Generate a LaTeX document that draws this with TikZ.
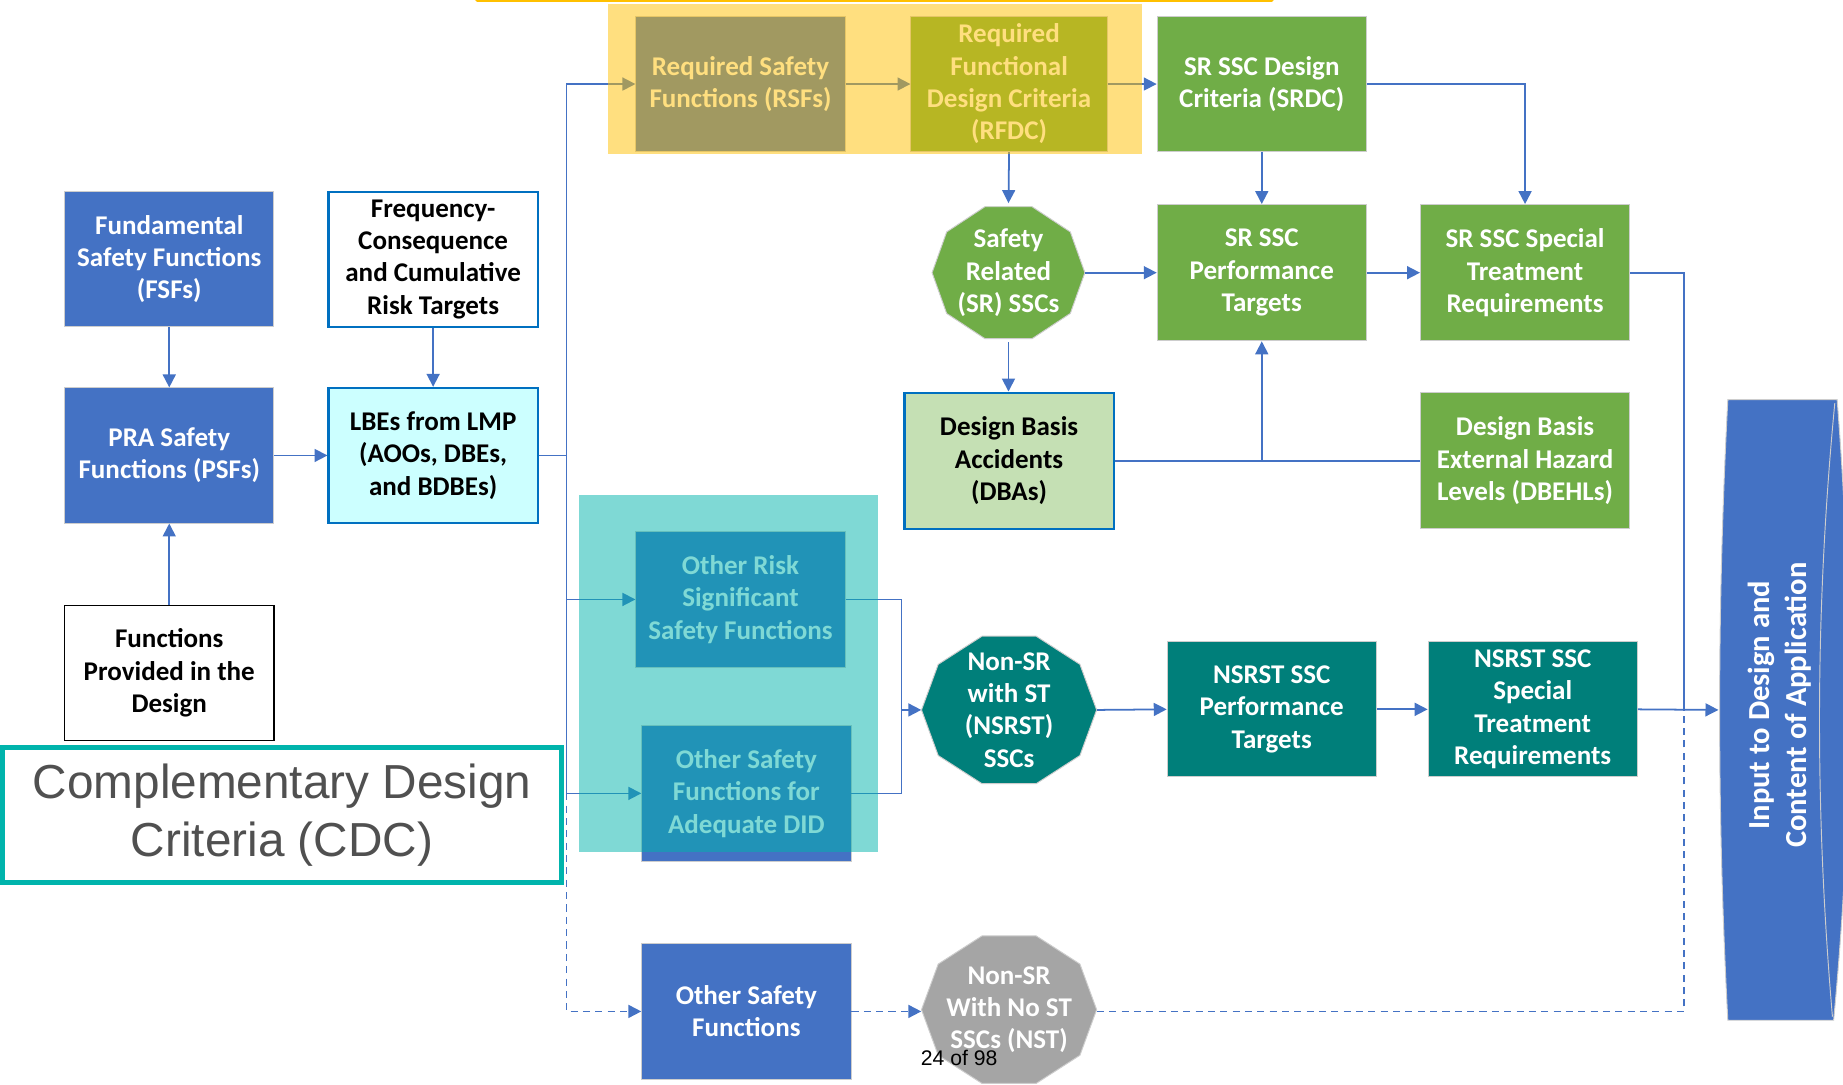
\documentclass[tikz,border=0pt]{standalone}
\usepackage{fontspec}
\setmainfont{Carlito}
\newfontfamily\arialf{Liberation Sans}
\usetikzlibrary{arrows.meta,calc}

\definecolor{bl}{RGB}{68,114,196}
\definecolor{gr}{RGB}{112,173,71}
\definecolor{dteal}{RGB}{0,127,122}
\definecolor{gy}{RGB}{165,165,165}
\definecolor{lblue}{RGB}{0,112,192}
\definecolor{lcyan}{RGB}{204,255,255}
\definecolor{lgreen}{RGB}{197,224,180}
\definecolor{tealc}{RGB}{0,180,172}
\definecolor{gold}{RGB}{255,192,0}
\definecolor{edge}{RGB}{205,205,205}
\definecolor{cdctext}{RGB}{80,80,80}

\newcommand{\decashape}[5]{%
  \filldraw[fill=#5, draw=edge, line width=0.8pt] ({#1+#3},#2)
    \foreach \t in {36,72,...,324}{ -- ({#1+#3*cos(\t)},{#2+#4*sin(\t)}) } -- cycle;}

\begin{document}
\begin{tikzpicture}[x=1pt,y=-1pt,
  txt/.style={align=center, font=\fontsize{23}{27.5}\selectfont\bfseries},
  box/.style={txt, rectangle, minimum width=178pt, minimum height=115pt, inner sep=2pt, draw=edge, line width=0.8pt},
  bluebox/.style={box, fill=bl, text=white},
  greenbox/.style={box, fill=gr, text=white},
  tealbox/.style={box, fill=dteal, text=white},
  outbox/.style={box, draw=lblue, line width=1.8pt, text=black},
  decot/.style={txt, rectangle, draw=none, inner sep=0pt, text=white},
  conn/.style={draw=bl, line width=1.5pt},
  arr/.style={conn, -{Triangle[length=11pt,width=11pt]}},
  dashln/.style={dash pattern=on 6pt off 4.5pt}
]
\useasboundingbox (0,0) rectangle (1568,923);
\fill[white] (0,0) rectangle (1568,923);

% ---------- boxes ----------
\node[bluebox] (rsf) at (630,71.5) {Required Safety\\Functions (RSFs)};
\node[greenbox, minimum width=167pt] (rfdc) at (858.5,71.5) {Required\\Functional\\Design Criteria\\(RFDC)};
\node[greenbox] (srdc) at (1073.5,71.5) {SR SSC Design\\Criteria (SRDC)};

\node[bluebox] (fsf) at (144,220.5) {Fundamental\\Safety Functions\\(FSFs)};
\node[outbox, fill=white] (fc) at (368.5,220.5) {Frequency-\\Consequence\\and Cumulative\\Risk Targets};
\node[bluebox] (psf) at (144,387.5) {PRA Safety\\Functions (PSFs)};
\node[outbox, fill=lcyan] (lbe) at (368.5,387.5) {LBEs from LMP\\(AOOs, DBEs,\\and BDBEs)};
\node[box, draw=black, line width=1.3pt, fill=white, text=black] (fpd) at (144,572.5) {Functions\\Provided in the\\Design};

\decashape{858}{232}{65}{59}{gr}
\node[decot, minimum width=130pt, minimum height=118pt] (sr) at (858,232) {Safety\\Related\\(SR) SSCs};
\node[greenbox, minimum height=116pt] (srperf) at (1073.5,232) {SR SSC\\Performance\\Targets};
\node[greenbox, minimum height=116pt] (srspec) at (1297.5,232) {SR SSC Special\\Treatment\\Requirements};
\node[outbox, fill=lgreen, minimum height=116pt] (dba) at (858.5,392) {Design Basis\\Accidents\\(DBAs)};
\node[greenbox, minimum height=116pt] (dbehl) at (1297.5,392) {Design Basis\\External Hazard\\Levels (DBEHLs)};

\node[bluebox, minimum height=116pt] (orsf) at (630,510) {Other Risk\\Significant\\Safety Functions};
\node[bluebox, minimum height=116pt] (did) at (635,675) {Other Safety\\Functions for\\Adequate DID};

\decashape{858.5}{604}{74.5}{66}{dteal}
\node[decot, minimum width=149pt, minimum height=132pt] (nsr) at (858.5,604) {Non-SR\\with ST\\(NSRST)\\SSCs};
\node[tealbox] (nsperf) at (1082,603.5) {NSRST SSC\\Performance\\Targets};
\node[tealbox] (nsspec) at (1304,603.5) {NSRST SSC\\Special\\Treatment\\Requirements};

\node[bluebox] (osf) at (635,860.5) {Other Safety\\Functions};
\decashape{858.5}{859}{74.5}{66}{gy}
\node[decot, minimum width=149pt, minimum height=132pt] (nst) at (858.5,859) {Non-SR\\With No ST\\SSCs (NST)};

% input shape
\filldraw[fill=bl, draw=edge, line width=0.8pt] (1470,340) -- (1563,340)
  .. controls (1577,520) and (1577,690) .. (1560,868) -- (1470,868)
  .. controls (1460.7,690) and (1460.7,520) .. (1470,340) -- cycle;
\draw[edge, line width=0.8pt] (1561,343) .. controls (1544,520) and (1544,690) .. (1559,865);
\node[txt, rotate=90, text=white, font=\fontsize{26}{32}\selectfont\bfseries] (inp) at (1514,600) {Input to Design and\\Content of Application};
\coordinate (inw) at (1462,604);

% ---------- connectors ----------
\coordinate (trunk) at (482,387.5);
\coordinate (busM) at (767,604);
\coordinate (busR) at (1433,604);

\draw[arr] (fsf) -- (psf);
\draw[arr] (fc) -- (lbe);
\draw[arr] (fpd) -- (psf);
\draw[arr] (psf) -- (lbe);
\draw[conn] (lbe.east) -- (trunk);
\draw[arr] (trunk) |- (rsf.west);
\draw[arr] (trunk) |- (orsf.west);
\draw[arr] (trunk) |- (did.west);
\draw[arr, dashln] (trunk |- did.west) |- (osf.west);

\draw[arr] (rsf) -- (rfdc);
\draw[arr] (rfdc) -- (srdc);
\draw[arr] (rfdc.south) -- (sr.north);
\draw[arr] (srdc) -- (srperf);
\draw[arr] (srdc.east) -| (srspec.north);
\draw[arr] (sr.east) -- (srperf.west);
\draw[arr] (srperf) -- (srspec);
\draw[arr] (sr.south) -- (dba.north -| sr.south);
\draw[conn] (dba.east) -- (dbehl.west);
\draw[arr] (srperf.south |- dba.east) -- (srperf.south);
\draw[conn] (srspec.east) -| (busR);

\draw[conn] (orsf.east) -| (busM);
\draw[conn] (did.east) -| (busM);
\draw[arr] (busM) -- (nsr.west);
\draw[arr] (nsr.east) -- (nsperf.west);
\draw[arr] (nsperf) -- (nsspec);
\draw[arr] (nsspec.east) -- (inw);

\draw[arr, dashln] (osf.east) -- (osf.east -| nst.west);
\draw[conn, dashln] (nst.east |- osf.east) -| (busR);

% ---------- overlays ----------
\fill[gold, opacity=0.5] (517,3) rectangle (972,131);
\draw[gold, line width=3pt, line cap=round] (406,0.5) -- (1082,0.5);
\fill[tealc, opacity=0.5] (493,421) rectangle (747,725);

% ---------- CDC ----------
\node[draw=tealc, line width=4pt, fill=white, minimum width=476pt, minimum height=115pt,
  inner sep=0pt, align=center, text=cdctext,
  font=\arialf\fontsize{40.6}{49.5}\selectfont] (cdc) at (240,693.5) {Complementary Design\\Criteria (CDC)};

\node[font=\arialf\fontsize{18}{20}\selectfont, inner sep=0pt] (pg) at (816,900) {24 of 98};
\end{tikzpicture}
\end{document}
